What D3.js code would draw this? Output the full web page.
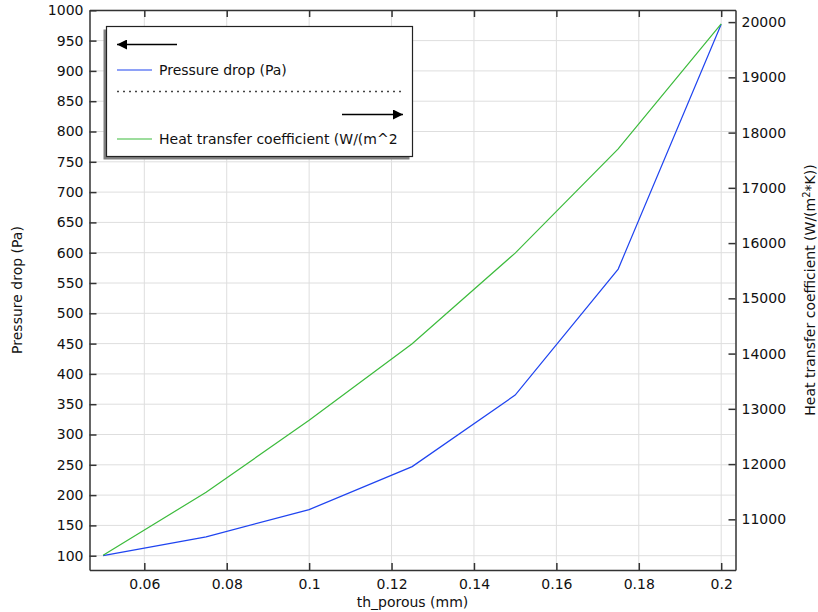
<!DOCTYPE html>
<html><head><meta charset="utf-8">
<script src="https://cdn.jsdelivr.net/npm/d3@7"></script>
<style>
body{margin:0;background:#fff;}
text{font-family:"DejaVu Sans",sans-serif;}
</style></head>
<body><svg id="c" width="818" height="612"></svg>
<script>
const thPorous = [0.05, 0.075, 0.1, 0.125, 0.15, 0.175, 0.2];
const pressureDrop = [100, 131, 176, 247, 365, 573, 977];
const heatTransfer = [10351, 11490, 12792, 14179, 15819, 17705, 19966];
const xTicks = [0.06, 0.08, 0.1, 0.12, 0.14, 0.16, 0.18, 0.2];
const xTickLabels = ["0.06","0.08","0.1","0.12","0.14","0.16","0.18","0.2"];
const yLeftTicks = [100,150,200,250,300,350,400,450,500,550,600,650,700,750,800,850,900,950,1000];
const yRightTicks = [11000,12000,13000,14000,15000,16000,17000,18000,19000,20000];
const legendLabels = ["Pressure drop (Pa)", "Heat transfer coefficient (W/(m^2"];
const colors = {pressure:"#1f44f0", heat:"#3cbb3c"};

const svg = d3.select("#c");
const L=89.5, R=735.5, T=10, B=570;
const x = d3.scaleLinear().domain([0.0467, 0.20347]).range([L, R]);
const yL = d3.scaleLinear().domain([76.4, 1000.5]).range([B, T]);
const yR = d3.scaleLinear().domain([10083, 20219]).range([B, T]);

// grid
const g = svg.append("g");
g.selectAll("line.gx").data(xTicks).join("line")
  .attr("x1", d=>x(d)).attr("x2", d=>x(d)).attr("y1", T).attr("y2", B)
  .attr("stroke", "#dedede").attr("stroke-width", 1);
g.selectAll("line.gy").data(yLeftTicks).join("line")
  .attr("x1", L).attr("x2", R).attr("y1", d=>yL(d)).attr("y2", d=>yL(d))
  .attr("stroke", "#dedede").attr("stroke-width", 1);

// lines
const lineP = d3.line().x((d,i)=>x(thPorous[i])).y(d=>yL(d));
const lineH = d3.line().x((d,i)=>x(thPorous[i])).y(d=>yR(d));
svg.append("path").attr("d", lineP(pressureDrop)).attr("fill","none").attr("stroke",colors.pressure).attr("stroke-width",1.2);
svg.append("path").attr("d", lineH(heatTransfer)).attr("fill","none").attr("stroke",colors.heat).attr("stroke-width",1.2);

// axes
const axB = d3.axisBottom(x).tickValues(xTicks).tickFormat((d,i)=>xTickLabels[i]).tickSizeInner(-7).tickSizeOuter(0).tickPadding(9);
const axT = d3.axisTop(x).tickValues(xTicks).tickFormat("").tickSizeInner(-7).tickSizeOuter(0);
const axL = d3.axisLeft(yL).tickValues(yLeftTicks).tickFormat(d3.format("d")).tickSizeInner(-7).tickSizeOuter(0).tickPadding(6);
const axR = d3.axisRight(yR).tickValues(yRightTicks).tickFormat(d3.format("d")).tickSizeInner(-7).tickSizeOuter(0).tickPadding(6);
function style(sel){
  sel.select(".domain").attr("stroke","#333").attr("stroke-width",1.5);
  sel.selectAll(".tick line").attr("stroke","#333").attr("stroke-width",1.5);
  sel.selectAll(".tick text").attr("font-size","14px").attr("fill","#111").attr("font-family","DejaVu Sans");
}
svg.append("g").attr("transform",`translate(0,${B})`).call(axB).call(style);
svg.append("g").attr("transform",`translate(0,${T})`).call(axT).call(style);
svg.append("g").attr("transform",`translate(${L},0)`).call(axL).call(style);
svg.append("g").attr("transform",`translate(${R},0)`).call(axR).call(style);

// axis titles
svg.append("text").attr("x",(L+R)/2).attr("y",607).attr("text-anchor","middle").attr("font-size","14px").attr("fill","#111").text("th_porous (mm)");
svg.append("text").attr("transform",`translate(22,${(T+B)/2}) rotate(-90)`).attr("text-anchor","middle").attr("font-size","14px").attr("fill","#111").text("Pressure drop (Pa)");
const rt = svg.append("text").attr("transform",`translate(815,${(T+B)/2}) rotate(-90)`).attr("text-anchor","middle").attr("font-size","14px").attr("fill","#111");
rt.append("tspan").text("Heat transfer coefficient (W/(m");
rt.append("tspan").attr("baseline-shift","super").attr("font-size","10px").text("2");
rt.append("tspan").text("*K))");

// legend
const lg = svg.append("g");
const bx=106.5, by=26.5, bw=306, bh=130;
lg.append("rect").attr("x",bx-3).attr("y",by+3).attr("width",bw).attr("height",bh).attr("fill","#808080");
lg.append("rect").attr("x",bx).attr("y",by).attr("width",bw).attr("height",bh).attr("fill","#fff").attr("stroke","#222").attr("stroke-width",1.2);
const defs = svg.append("defs");
defs.append("marker").attr("id","arr").attr("viewBox","0 0 10 10").attr("refX",10).attr("refY",5)
  .attr("markerWidth",10).attr("markerHeight",10).attr("markerUnits","userSpaceOnUse").attr("orient","auto")
  .append("path").attr("d","M0,0 L10,5 L0,10 Z").attr("fill","#000");
lg.append("line").attr("x1",177).attr("x2",117).attr("y1",44.5).attr("y2",44.5).attr("stroke","#000").attr("stroke-width",1.6).attr("marker-end","url(#arr)");
lg.append("line").attr("x1",117).attr("x2",152).attr("y1",70).attr("y2",70).attr("stroke",colors.pressure).attr("stroke-width",1.2);
lg.append("text").attr("x",159).attr("y",75).attr("font-size","14px").attr("fill","#111").text(legendLabels[0]);
lg.append("line").attr("x1",117).attr("x2",403).attr("y1",91.5).attr("y2",91.5).attr("stroke","#444").attr("stroke-width",1.3).attr("stroke-dasharray","2,4");
lg.append("line").attr("x1",342).attr("x2",403).attr("y1",114.5).attr("y2",114.5).attr("stroke","#000").attr("stroke-width",1.6).attr("marker-end","url(#arr)");
lg.append("line").attr("x1",117).attr("x2",152).attr("y1",139).attr("y2",139).attr("stroke",colors.heat).attr("stroke-width",1.2);
lg.append("text").attr("x",159).attr("y",144).attr("font-size","14px").attr("fill","#111").text(legendLabels[1]);
</script></body></html>
